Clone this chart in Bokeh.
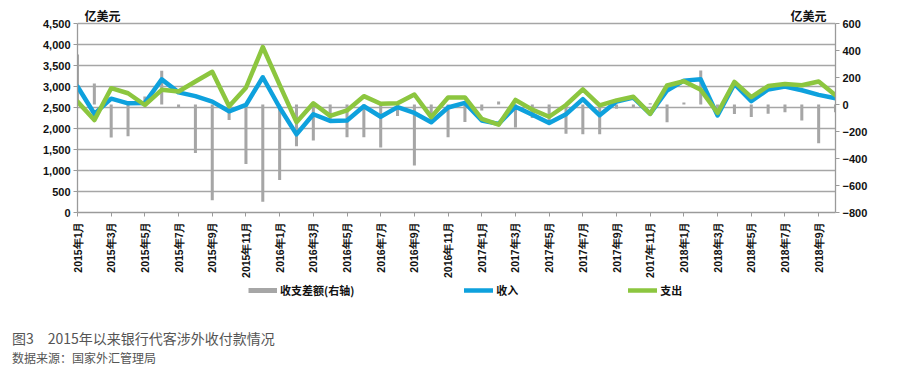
from math import pi
from bokeh.plotting import figure
from bokeh.layouts import column
from bokeh.models import (Range1d, LinearAxis, FixedTicker, Legend, LegendItem,
                          Label, NumeralTickFormatter, ColumnDataSource, Div)
from bokeh.embed import file_html
from bokeh.resources import INLINE

# ---------------- data ----------------
months = [f"{y}年{m}月" for y in range(2015, 2019) for m in range(1, 13)][:46]

income = [3000, 2350, 2710, 2600, 2610, 3170, 2860, 2770, 2640, 2410,
          2560, 3220, 2500, 1860, 2340, 2180, 2190, 2530, 2280, 2510,
          2370, 2150, 2500, 2610, 2190, 2110, 2520, 2330, 2130, 2340,
          2700, 2315, 2640, 2735, 2350, 2905, 3140, 3170, 2310, 3060,
          2650, 2930, 3000, 2910, 2800, 2720]

expense = [2640, 2200, 2960, 2840, 2560, 2920, 2880, 3120, 3350, 2530,
           2970, 3940, 3040, 2150, 2600, 2300, 2430, 2770, 2590, 2600,
           2810, 2270, 2740, 2740, 2230, 2090, 2680, 2450, 2280, 2560,
           2930, 2550, 2670, 2755, 2350, 3025, 3125, 2920, 2370, 3110,
           2745, 3010, 3060, 3030, 3120, 2790]

balance = [370, 155, -245, -235, 60, 250, -20, -360, -710, -115,
           -440, -720, -560, -310, -267, -120, -242, -242, -319, -85,
           -452, -110, -242, -130, -44, 22, -170, -100, -140, -217,
           -220, -220, -32, -20, 10, -131, 15, 252, -57, -70,
           -93, -69, -57, -118, -287, -57]

left_ticks = list(range(0, 4501, 500))
right_ticks = list(range(-800, 601, 200))
x_ticks = list(range(0, 45, 2))

series_names = ["收支差额(右轴)", "收入", "支出"]
unit_text = "亿美元"
caption = "图3\u30002015年以来银行代客涉外收付款情况"
source_text = "数据来源：国家外汇管理局"

# ---------------- styles ----------------
BLUE = "#0ea1dd"
GREEN = "#8cc63f"
GRAY = "#a6a6a6"
AXIS = "#9a9a9a"
FONT = "Liberation Sans"
CJK = "Noto Sans CJK SC"

W = 901
H_TOP = 283
H_LEG = 30
H_CAP = 60
TOP_PAD = 20          # px of frame above the 4,500 / 600 gridline
PLOT_H = 189          # px between 0 and 4,500

src = ColumnDataSource(dict(x=list(range(len(months))), inc=income,
                            exp=expense, bal=balance))

left_top = 4500 + TOP_PAD * 4500 / PLOT_H
right_top = 600 + TOP_PAD * 1400 / PLOT_H

p = figure(width=W, height=H_TOP, output_backend="svg", toolbar_location=None,
           x_range=Range1d(0, 45), y_range=Range1d(0, left_top),
           min_border_left=77, min_border_right=66,
           min_border_top=23 - TOP_PAD, min_border_bottom=H_TOP - 212)
p.outline_line_color = None
p.background_fill_color = "white"
p.extra_y_ranges = {"right": Range1d(-800, right_top)}

# grid
p.xgrid.visible = False
p.ygrid.grid_line_color = GRAY
p.ygrid.grid_line_width = 1.3
p.ygrid.ticker = FixedTicker(ticks=left_ticks)

# bars on right axis, then lines
p.vbar(x="x", top="bal", bottom=0, width=0.18, source=src,
       y_range_name="right", fill_color=GRAY, line_color=None)
p.line("x", "inc", source=src, line_color=BLUE, line_width=4.5,
       line_join="round", line_cap="round")
p.line("x", "exp", source=src, line_color=GREEN, line_width=4.5,
       line_join="round", line_cap="round")

def style_axis(ax, size="11px"):
    ax.axis_line_color = AXIS
    ax.axis_line_width = 1.3
    ax.major_tick_line_color = AXIS
    ax.major_tick_out = 4
    ax.major_tick_in = 0
    ax.minor_tick_out = 0
    ax.minor_tick_in = 0
    ax.major_label_text_font = FONT
    ax.major_label_text_font_style = "bold"
    ax.major_label_text_font_size = size
    ax.major_label_text_color = "#111111"
    ax.major_label_standoff = 3

# left axis
ya = p.yaxis[0]
ya.ticker = FixedTicker(ticks=left_ticks)
ya.formatter = NumeralTickFormatter(format="0,0")
ya.bounds = (0, 4500)
style_axis(ya)

# right axis
ra = LinearAxis(y_range_name="right", ticker=FixedTicker(ticks=right_ticks),
                bounds=(-800, 600))
style_axis(ra)
p.add_layout(ra, "right")

# bottom axis
xa = p.xaxis[0]
xa.ticker = FixedTicker(ticks=x_ticks)
xa.major_label_overrides = {i: months[i] for i in x_ticks}
xa.major_label_orientation = pi / 2
style_axis(xa, "10.5px")
xa.major_label_standoff = 5

# unit labels inside the (extended) frame, above the top gridline
for xx in (7, 713):
    p.add_layout(Label(x=xx, y=197, x_units="screen", y_units="screen",
                       text=unit_text, text_font=CJK, text_font_style="bold",
                       text_font_size="12px", text_baseline="middle",
                       text_color="#111111"))

# ---------------- legend strip ----------------
q = figure(width=W, height=H_LEG, output_backend="svg", toolbar_location=None,
           x_range=Range1d(0, 1), y_range=Range1d(0, 1),
           x_axis_location=None, y_axis_location=None,
           min_border_left=77, min_border_right=66, min_border_top=0,
           min_border_bottom=0)
q.outline_line_color = None
q.xgrid.visible = False
q.ygrid.visible = False

nan = float("nan")
blank = ColumnDataSource(dict(x=[nan, nan], y=[nan, nan]))
sw_bal = q.line("x", "y", source=blank, line_color=GRAY, line_width=5)
sw_inc = q.line("x", "y", source=blank, line_color=BLUE, line_width=4.5,
                line_cap="round")
sw_exp = q.line("x", "y", source=blank, line_color=GREEN, line_width=4.5,
                line_cap="round")

leg = Legend(items=[LegendItem(label=series_names[0], renderers=[sw_bal]),
                    LegendItem(label=series_names[1], renderers=[sw_inc]),
                    LegendItem(label=series_names[2], renderers=[sw_exp])],
             location=(171, 15), orientation="horizontal",
             glyph_width=29, glyph_height=12, label_height=12,
             label_standoff=3, padding=0, margin=0, spacing=110,
             border_line_alpha=0, background_fill_alpha=0,
             label_text_font=CJK, label_text_font_style="bold",
             label_text_font_size="11px", label_text_color="#111111")
q.add_layout(leg)

# ---------------- captions ----------------
cap = Div(width=W, height=H_CAP, margin=(0, 0, 0, 0),
          text=(f'<div style="padding:16px 0 0 12px;font-family:\'{CJK}\';'
                f'color:#555555;white-space:nowrap">'
                f'<div style="font-size:14px;line-height:19px">{caption}</div>'
                f'<div style="font-size:12px;line-height:19px">{source_text}</div>'
                f'</div>'))

layout = column(p, q, cap, spacing=0)
open("out.html", "w").write(file_html(layout, INLINE))
